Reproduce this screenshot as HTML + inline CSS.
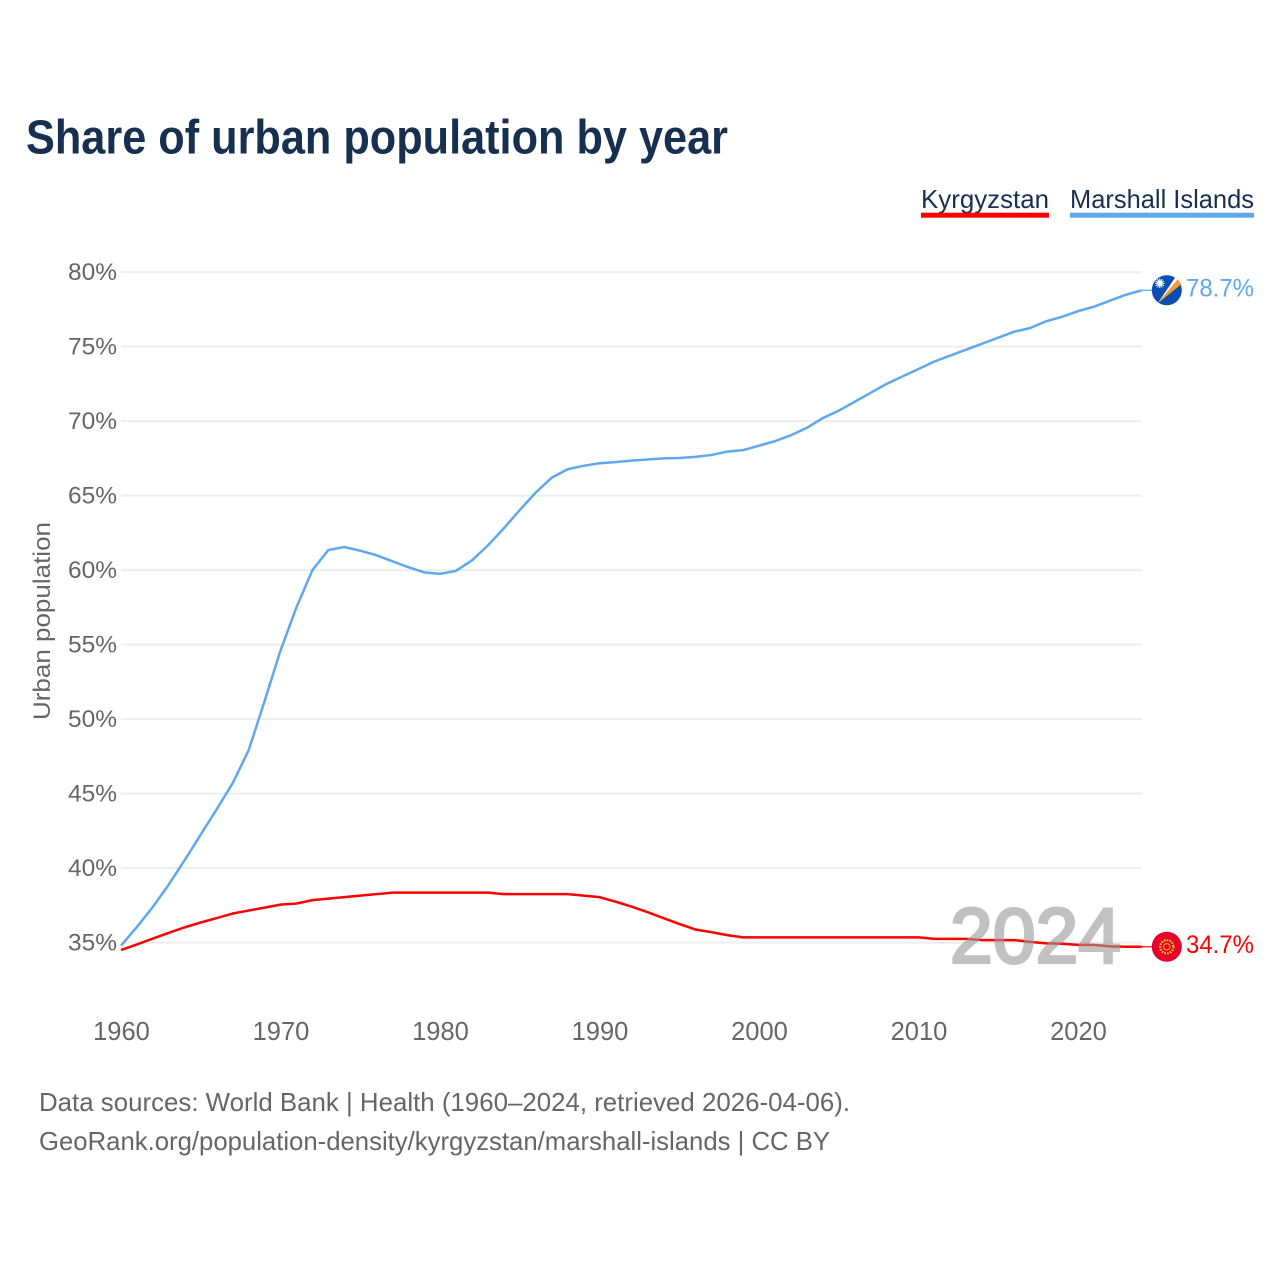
<!DOCTYPE html>
<html lang="en">
<head>
<meta charset="utf-8">
<title>Share of urban population by year</title>
<style>
html,body{margin:0;padding:0;background:#fff;}
svg{display:block;}
text{font-family:"Liberation Sans",sans-serif;}
</style>
</head>
<body>
<svg id="chart" xmlns="http://www.w3.org/2000/svg" width="1280" height="1280" viewBox="0 0 1280 1280">
  <rect width="1280" height="1280" fill="#fff"/>
  <text x="26" y="153.5" font-size="48" font-weight="700" fill="#18304f" textLength="702" lengthAdjust="spacingAndGlyphs">Share of urban population by year</text>

  <g>
    <text x="921" y="208" font-size="26" fill="#18304f" textLength="128" lengthAdjust="spacingAndGlyphs">Kyrgyzstan</text>
    <rect x="921" y="212.7" width="128" height="5" fill="#ff0000"/>
  </g>
  <g>
    <text x="1070" y="208" font-size="26" fill="#18304f" textLength="184" lengthAdjust="spacingAndGlyphs">Marshall Islands</text>
    <rect x="1070" y="212.7" width="184" height="5" fill="#5fa8ee"/>
  </g>

  <text transform="translate(50,720) rotate(-90)" x="0" y="0" font-size="24" fill="#666" textLength="198" lengthAdjust="spacingAndGlyphs">Urban population</text>

  <g id="grid"></g>
  <g id="yticks"></g>
  <g id="xticks"></g>
  <g id="series"></g>

  <text x="950" y="962.5" font-size="78" font-weight="400" fill="#999" stroke="#999" stroke-width="3" opacity="0.6" textLength="171" lengthAdjust="spacingAndGlyphs">2024</text>

  <g id="ends"></g>

  <text x="39" y="1111" font-size="26" fill="#666" textLength="811" lengthAdjust="spacingAndGlyphs">Data sources: World Bank | Health (1960–2024, retrieved 2026-04-06).</text>
  <text x="39" y="1150" font-size="26" fill="#666" textLength="791" lengthAdjust="spacingAndGlyphs">GeoRank.org/population-density/kyrgyzstan/marshall-islands | CC BY</text>
</svg>
<script>
const firstYear = 1960;
const xTickYears = [1960, 1970, 1980, 1990, 2000, 2010, 2020];
const yTickValues = [35, 40, 45, 50, 55, 60, 65, 70, 75, 80];
const marshallIslands = [
  34.8, 36.05, 37.4, 38.9, 40.55, 42.25, 43.95, 45.7, 47.9, 51.2,
  54.6, 57.5, 60.0, 61.35, 61.55, 61.3, 61.0, 60.6, 60.2, 59.85,
  59.75, 59.95, 60.65, 61.65, 62.8, 64.03, 65.2, 66.2, 66.77, 67.0,
  67.17, 67.25, 67.35, 67.42, 67.5, 67.52, 67.6, 67.72, 67.95, 68.05,
  68.35, 68.65, 69.05, 69.55, 70.2, 70.7, 71.3, 71.9, 72.5, 73.0,
  73.5, 74.0, 74.4, 74.8, 75.2, 75.6, 76.0, 76.25, 76.7, 77.0,
  77.38, 77.68, 78.08, 78.48, 78.78
];
const kyrgyzstan = [
  34.5, 34.88, 35.27, 35.66, 36.03, 36.35, 36.65, 36.95, 37.15, 37.35,
  37.55, 37.62, 37.85, 37.95, 38.05, 38.15, 38.25, 38.35, 38.35, 38.35,
  38.35, 38.35, 38.35, 38.35, 38.25, 38.25, 38.25, 38.25, 38.25, 38.15,
  38.05, 37.75, 37.42, 37.05, 36.65, 36.25, 35.88, 35.7, 35.5, 35.35,
  35.35, 35.35, 35.35, 35.35, 35.35, 35.35, 35.35, 35.35, 35.35, 35.35,
  35.35, 35.25, 35.25, 35.25, 35.17, 35.17, 35.17, 35.05, 34.95, 34.92,
  34.85, 34.85, 34.75, 34.72, 34.72
];
const endValueLabels = ['78.7%', '34.7%'];

const NS = 'http://www.w3.org/2000/svg';
const xScale = function (year) { return 121 + (year - 1960) * 15.95; };
const yScale = function (v) { return 942.6 - (v - 35) * 14.9; };
const yearOf = function (i) { return firstYear + i; };

function make(tag, attrs, parent, content) {
  const el = document.createElementNS(NS, tag);
  Object.keys(attrs).forEach(function (k) { el.setAttribute(k, attrs[k]); });
  if (content !== undefined) el.textContent = content;
  parent.appendChild(el);
  return el;
}

const gridG = document.getElementById('grid');
const yTicksG = document.getElementById('yticks');
const xTicksG = document.getElementById('xticks');
const seriesG = document.getElementById('series');
const endsG = document.getElementById('ends');

yTickValues.forEach(function (v) {
  const line = make('line', {x1: 121, x2: 1142, y1: yScale(v), y2: yScale(v), stroke: '#eeeeee', 'stroke-width': 2}, gridG);
  
  
  const label = make('text', {x: 117, y: yScale(v) + 8, 'text-anchor': 'end', 'font-size': 24.5, fill: '#666'}, yTicksG, v + '%');
  
  
});

xTickYears.forEach(function (y) {
  const label = make('text', {x: xScale(y) + 0.5, y: 1040, 'text-anchor': 'middle', 'font-size': 25.5, fill: '#666'}, xTicksG, String(y));
  
  
});

function pathFor(values) {
  return values.map(function (v, i) {
    return (i ? 'L' : 'M') + xScale(yearOf(i)).toFixed(2) + ' ' + yScale(v).toFixed(2);
  }).join(' ');
}

const blueLine = make('path', {d: pathFor(marshallIslands), fill: 'none', stroke: '#5fa8ee', 'stroke-width': 2.5, 'stroke-linejoin': 'round'}, seriesG);



const redLine = make('path', {d: pathFor(kyrgyzstan), fill: 'none', stroke: '#ff0000', 'stroke-width': 2.5, 'stroke-linejoin': 'round'}, seriesG);



/* Marshall Islands end marker */
const mLast = marshallIslands[marshallIslands.length - 1];
const mY = yScale(mLast);
const mX = 1166.8;
const mLeader = make('line', {x1: 1142, x2: 1152, y1: mY, y2: mY, stroke: '#5fa8ee', 'stroke-width': 1.2}, endsG);


const mFlag = make('g', {transform: 'translate(' + mX + ',' + mY + ')'}, endsG);


make('circle', {cx: 0, cy: 0, r: 15, fill: '#0a4fb0'}, mFlag);
make('path', {d: 'M-9 13 L11 -11 L14.5 -6 Z', fill: '#f79a2e'}, mFlag);
make('path', {d: 'M-9 13 L8.5 -13 L11 -11 Z', fill: '#ffffff'}, mFlag);
make('circle', {cx: -7, cy: -7, r: 2.8, fill: '#ffffff'}, mFlag);
[0, 30, 60, 90, 120, 150].forEach(function (a) {
  make('rect', {x: -11.8, y: -7.5, width: 9.6, height: 1, fill: '#ffffff', transform: 'rotate(' + a + ' -7 -7)'}, mFlag);
});
const mText = make('text', {x: 1186, y: mY + 6.4, 'font-size': 25, fill: '#5fa8ee', textLength: 68, lengthAdjust: 'spacingAndGlyphs'}, endsG, endValueLabels[0]);



/* Kyrgyzstan end marker */
const kLast = kyrgyzstan[kyrgyzstan.length - 1];
const kY = yScale(kLast);
const kLeader = make('line', {x1: 1142, x2: 1152, y1: kY, y2: kY, stroke: '#ff0000', 'stroke-width': 1.2}, endsG);


const kFlag = make('g', {transform: 'translate(' + mX + ',' + kY + ')'}, endsG);


make('circle', {cx: 0, cy: 0, r: 15, fill: '#e4002b'}, kFlag);
make('circle', {cx: 0, cy: 0, r: 6.6, fill: 'none', stroke: '#f5c518', 'stroke-width': 2.4, 'stroke-dasharray': '1.6 1.2'}, kFlag);
make('circle', {cx: 0, cy: 0, r: 3.2, fill: 'none', stroke: '#f5c518', 'stroke-width': 1}, kFlag);
const kText = make('text', {x: 1186, y: kY + 6, 'font-size': 25, fill: '#ff0000', textLength: 68, lengthAdjust: 'spacingAndGlyphs'}, endsG, endValueLabels[1]);


</script>
</body>
</html>
